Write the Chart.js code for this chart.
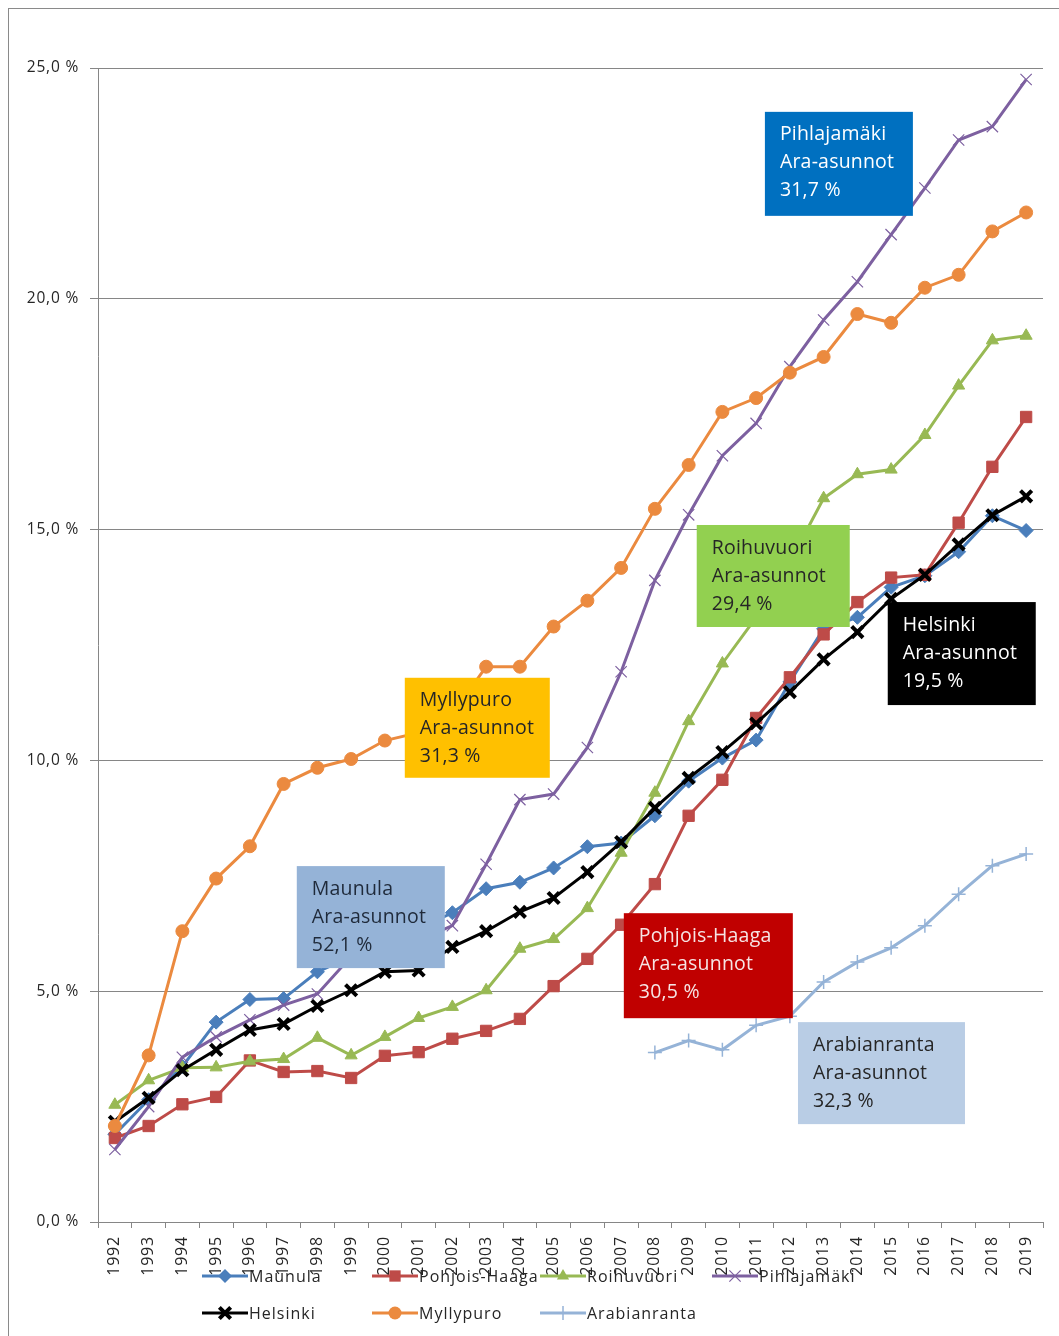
<!DOCTYPE html>
<html>
<head>
<meta charset="utf-8">
<title>Ara-asunnot</title>
<script src="https://cdn.jsdelivr.net/npm/chart.js"></script>
<style>
  html, body { margin: 0; padding: 0; background: #fff; overflow: hidden; }
  #wrap { position: relative; width: 1059px; height: 1336px; }
  #frame { position: absolute; left: 8px; top: 8px; width: 1050px; height: 1340px; border: 1px solid #8a8a8a; }
  #chart { position: absolute; left: 0; top: 0; }
</style>
</head>
<body>
<div id="wrap">
  <div id="frame"></div>
  <canvas id="chart" width="1059" height="1336"></canvas>
</div>
<script>
// Years on the category axis
const years = ['1992', '1993', '1994', '1995', '1996', '1997', '1998', '1999', '2000', '2001',
    '2002', '2003', '2004', '2005', '2006', '2007', '2008', '2009', '2010', '2011',
    '2012', '2013', '2014', '2015', '2016', '2017', '2018', '2019'];

// Series values (%)
const maunula = [1.9, 2.65, 3.37, 4.33, 4.82, 4.84, 5.42, 5.75, 6.05, 6.35, 6.7, 7.22, 7.36, 7.67, 8.13, 8.21,
    8.8, 9.55, 10.05, 10.44, 11.7, 12.85, 13.1, 13.75, 14.0, 14.52, 15.3, 14.98];
const pohjoisHaaga = [1.82, 2.08, 2.55, 2.71, 3.5, 3.25, 3.27, 3.12, 3.6, 3.68, 3.97, 4.14, 4.4, 5.11, 5.7, 6.44,
    7.32, 8.8, 9.58, 10.92, 11.8, 12.73, 13.43, 13.96, 14.02, 15.15, 16.36, 17.44];
const roihuvuori = [2.54, 3.07, 3.34, 3.35, 3.48, 3.53, 3.99, 3.61, 4.01, 4.42, 4.66, 5.02, 5.92, 6.13, 6.8, 8.0,
    9.3, 10.85, 12.1, 13.1, 14.3, 15.68, 16.2, 16.3, 17.05, 18.12, 19.1, 19.2];
const pihlajamaki = [1.57, 2.5, 3.57, 4.01, 4.38, 4.7, 4.94, 5.75, 5.9, 6.1, 6.42, 7.75, 9.15, 9.27, 10.28, 11.92,
    13.9, 15.32, 16.6, 17.3, 18.53, 19.54, 20.37, 21.39, 22.4, 23.44, 23.73, 24.75];
const helsinki = [2.17, 2.69, 3.29, 3.73, 4.16, 4.29, 4.68, 5.02, 5.42, 5.45, 5.96, 6.3, 6.72, 7.02, 7.58, 8.23,
    8.97, 9.62, 10.18, 10.8, 11.48, 12.19, 12.78, 13.5, 14.02, 14.68, 15.31, 15.72];
const myllypuro = [2.08, 3.61, 6.3, 7.44, 8.14, 9.49, 9.84, 10.03, 10.43, 10.6, 11.0, 12.03, 12.03, 12.9, 13.46, 14.17,
    15.45, 16.4, 17.55, 17.85, 18.4, 18.74, 19.67, 19.48, 20.24, 20.52, 21.46, 21.87];
const arabianranta = [null, null, null, null, null, null, null, null, null, null, null, null, null, null, null, null,
    3.67, 3.93, 3.73, 4.26, 4.46, 5.2, 5.63, 5.94, 6.42, 7.1, 7.72, 7.97];

// Y axis ticks
const yTicks = [0, 5, 10, 15, 20, 25];

// Text of the call-out boxes
const noteTexts = [
    ['Pihlajamäki', 'Ara-asunnot', '31,7 %'],
    ['Myllypuro', 'Ara-asunnot', '31,3 %'],
    ['Roihuvuori', 'Ara-asunnot', '29,4 %'],
    ['Helsinki', 'Ara-asunnot', '19,5 %'],
    ['Maunula', 'Ara-asunnot', '52,1 %'],
    ['Pohjois-Haaga', 'Ara-asunnot', '30,5 %'],
    ['Arabianranta', 'Ara-asunnot', '32,3 %']
];

// Box placement (top-left corner in axis units) and look
const noteLayout = [
    { at: [19.26, 24.05], w: 148, h: 104, bg: '#0070C0', fg: '#ffffff' },
    { at: [8.59, 11.79], w: 145, h: 100, bg: '#FFC000', fg: '#262626' },
    { at: [17.24, 15.10], w: 153, h: 102, bg: '#92D050', fg: '#262626' },
    { at: [22.9, 13.43], w: 148, h: 103, bg: '#000000', fg: '#ffffff' },
    { at: [5.39, 7.71], w: 148, h: 102, bg: '#95B3D7', fg: '#1f2a3a' },
    { at: [15.08, 6.69], w: 169, h: 105, bg: '#C00000', fg: '#f6e4e4' },
    { at: [20.24, 4.33], w: 167, h: 102, bg: '#B9CDE5', fg: '#262626' }
];

const FONT = '"Open Sans", sans-serif';

function series(label, data, color, style, radius, borderWidth, fill) {
    return {
        label: label,
        data: data,
        borderColor: color,
        backgroundColor: color,
        borderWidth: 3,
        pointStyle: style,
        pointRadius: radius,
        pointHoverRadius: radius,
        pointBorderWidth: borderWidth,
        pointBackgroundColor: fill ? color : 'transparent',
        pointBorderColor: color,
        tension: 0,
        spanGaps: false
    };
}

const datasets = [
    series('Maunula', maunula, '#4A7EBB', 'rectRot', 7, 1, true),
    series('Pohjois-Haaga', pohjoisHaaga, '#BE4B48', 'rect', 8, 1, true),
    series('Roihuvuori', roihuvuori, '#98B954', 'triangle', 7, 1, true),
    series('Pihlajamäki', pihlajamaki, '#7D60A0', 'crossRot', 8, 1.2, false),
    series('Helsinki', helsinki, '#000000', 'crossRot', 8, 4, false),
    series('Myllypuro', myllypuro, '#EB8A3F', 'circle', 6.5, 1, true),
    series('Arabianranta', arabianranta, '#95B3D7', 'cross', 7, 1.5, false)
];
// Later series are drawn on top, as in the original
datasets.forEach((d, i) => { d.order = datasets.length - i; });

// Small marker painter for the legend
function drawMarker(ctx, style, x, y, r, lw, color) {
    ctx.save();
    ctx.fillStyle = color;
    ctx.strokeStyle = color;
    ctx.lineWidth = lw;
    ctx.beginPath();
    if (style === 'circle') {
        ctx.arc(x, y, r, 0, Math.PI * 2);
        ctx.fill();
    } else if (style === 'rect') {
        const s = r * Math.SQRT1_2;
        ctx.rect(x - s, y - s, s * 2, s * 2);
        ctx.fill();
    } else if (style === 'rectRot') {
        ctx.moveTo(x, y - r); ctx.lineTo(x + r, y); ctx.lineTo(x, y + r); ctx.lineTo(x - r, y);
        ctx.closePath();
        ctx.fill();
    } else if (style === 'triangle') {
        ctx.moveTo(x, y - r); ctx.lineTo(x + r * 0.87, y + r * 0.5); ctx.lineTo(x - r * 0.87, y + r * 0.5);
        ctx.closePath();
        ctx.fill();
    } else if (style === 'crossRot') {
        const s = r * Math.SQRT1_2;
        ctx.moveTo(x - s, y - s); ctx.lineTo(x + s, y + s);
        ctx.moveTo(x - s, y + s); ctx.lineTo(x + s, y - s);
        ctx.stroke();
    } else if (style === 'cross') {
        ctx.moveTo(x, y - r); ctx.lineTo(x, y + r);
        ctx.moveTo(x - r, y); ctx.lineTo(x + r, y);
        ctx.stroke();
    }
    ctx.restore();
}

// Legend spots: [column x, row y] for each series
const legendSpots = [[202, 1276], [372, 1276], [540, 1276], [712, 1276], [202, 1313], [372, 1313], [540, 1313]];

const customLegend = {
    id: 'customLegend',
    afterDraw(chart) {
        const ctx = chart.ctx;
        ctx.save();
        ctx.font = '16px ' + FONT;
        ctx.letterSpacing = '1px';
        ctx.textBaseline = 'middle';
        ctx.fillStyle = '#262626';
        chart.data.datasets.forEach((ds, i) => {
            const [x, y] = legendSpots[i];
            ctx.save();
            ctx.strokeStyle = ds.borderColor;
            ctx.lineWidth = 3;
            ctx.beginPath();
            ctx.moveTo(x, y);
            ctx.lineTo(x + 46, y);
            ctx.stroke();
            ctx.restore();
            drawMarker(ctx, ds.pointStyle, x + 23, y, ds.pointRadius, ds.pointBorderWidth, ds.borderColor);
            ctx.fillText(ds.label, x + 47, y + 1);
        });
        ctx.restore();
    }
};

const noteBoxes = {
    id: 'noteBoxes',
    afterDatasetsDraw(chart) {
        const ctx = chart.ctx;
        const xs = chart.scales.x;
        const ys = chart.scales.y;
        ctx.save();
        ctx.font = '19.5px ' + FONT;
        ctx.letterSpacing = '0.2px';
        ctx.textBaseline = 'middle';
        noteLayout.forEach((n, i) => {
            const left = xs.getPixelForValue(n.at[0]);
            const top = ys.getPixelForValue(n.at[1]);
            ctx.fillStyle = n.bg;
            ctx.fillRect(left, top, n.w, n.h);
            ctx.fillStyle = n.fg;
            noteTexts[i].forEach((t, k) => {
                ctx.fillText(t, left + 15, top + 23 + k * 28);
            });
        });
        ctx.restore();
    }
};

const spacing = {
    id: 'spacing',
    beforeDraw(chart) {
        chart.ctx.letterSpacing = '0.8px';
    }
};

new Chart(document.getElementById('chart'), {
    type: 'line',
    data: { labels: years, datasets: datasets },
    options: {
        responsive: false,
        animation: false,
        devicePixelRatio: 1,
        layout: { padding: { left: 0, top: 68, right: 16, bottom: 0 } },
        plugins: {
            legend: { display: false },
            tooltip: { enabled: false }
        },
        scales: {
            x: {
                offset: true,
                grid: {
                    offset: true,
                    drawOnChartArea: false,
                    drawTicks: true,
                    tickLength: 6,
                    color: '#868686'
                },
                border: { color: '#868686', width: 1 },
                ticks: {
                    autoSkip: false,
                    minRotation: 90,
                    maxRotation: 90,
                    padding: 8,
                    color: '#262626',
                    font: { family: FONT, size: 16 }
                },
                afterFit(scale) { scale.height = 114; }
            },
            y: {
                min: 0,
                max: 25,
                afterBuildTicks(scale) { scale.ticks = yTicks.map(v => ({ value: v })); },
                grid: {
                    color: '#868686',
                    lineWidth: 1,
                    drawTicks: true,
                    tickLength: 8
                },
                border: { color: '#868686', width: 1 },
                ticks: {
                    padding: 11,
                    color: '#262626',
                    font: { family: FONT, size: 15.5 },
                    callback: (v) => Number(v).toFixed(1).replace('.', ',') + ' %'
                },
                afterFit(scale) { scale.width = 98; }
            }
        }
    },
    plugins: [spacing, noteBoxes, customLegend]
});
</script>
</body>
</html>
